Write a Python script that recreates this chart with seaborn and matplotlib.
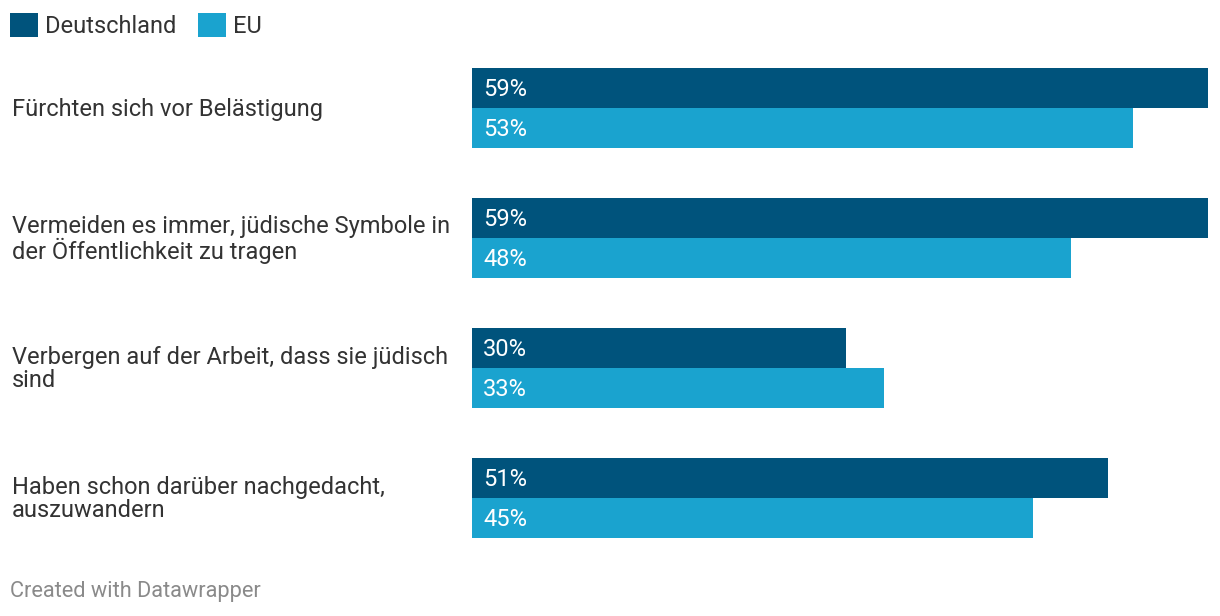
import numpy as np
import pandas as pd
import matplotlib.pyplot as plt
import matplotlib.transforms as mtrans
from matplotlib.patches import Patch
import seaborn as sns

categories = ['Fürchten sich vor Belästigung',
              'Vermeiden es immer, jüdische Symbole in\nder Öffentlichkeit zu tragen',
              'Verbergen auf der Arbeit, dass sie jüdisch\nsind',
              'Haben schon darüber nachgedacht,\nauszuwandern']
deutschland = [59, 59, 30, 51]
eu = [53, 48, 33, 45]
series = ['Deutschland', 'EU']
colors = ['#00537c', '#1aa3cf']

data = pd.DataFrame({
    'Kategorie': categories * 2,
    'Wert': deutschland + eu,
    'Gruppe': ['Deutschland'] * 4 + ['EU'] * 4,
})

sns.set_theme(style='white')
plt.rcParams['font.family'] = ['Roboto', 'DejaVu Sans']

fig = plt.figure(figsize=(12.2, 6.16), dpi=100)
W, H = 1220, 616
# axes from bar start (472px) to 59% end (1208px), top 68px to bottom 538px
ax = fig.add_axes([472 / W, 1 - 538 / H, (1208 - 472) / W, (538 - 68) / H])

bw = 80 / 130
sns.barplot(data=data, x='Wert', y='Kategorie', hue='Gruppe', order=categories,
            hue_order=series, palette=colors, orient='h', width=bw, dodge=True,
            saturation=1, linewidth=0, legend=False, ax=ax)

ax.set_xlim(0, max(deutschland))
ax.set_ylim(len(categories) - 1 + bw / 2, -bw / 2)
ax.set_xticks([])
ax.set_yticks([])
ax.set_xlabel('')
ax.set_ylabel('')
for s in ax.spines.values():
    s.set_visible(False)

# value labels inside bars
for cont in ax.containers:
    for bar in cont:
        v = bar.get_width()
        yc = bar.get_y() + bar.get_height() / 2
        ax.annotate(f'{v:.0f}%', (0, yc), xytext=(8, -1.3), textcoords='offset points',
                    ha='left', va='center', color='white', fontsize=17)

# category labels on the left
tr = mtrans.blended_transform_factory(fig.transFigure, ax.transData)
off = mtrans.ScaledTranslation(0, -1 / 72, fig.dpi_scale_trans)
for i, c in enumerate(categories):
    ax.text(12 / W, i, c, transform=tr + off, ha='left', va='center', fontsize=17,
            color='#333333', linespacing=1.0)

handles = [Patch(facecolor=c, edgecolor='none') for c in colors]
fig.legend(handles, series, loc='upper left', bbox_to_anchor=(10 / W, 1 - 13 / H),
           ncol=2, frameon=False, fontsize=17, handlelength=1.2, handleheight=1.2,
           handletextpad=0.3, columnspacing=0.9, labelcolor='#333333',
           borderpad=0, borderaxespad=0)

fig.text(10 / W, 1 - 592 / H, 'Created with Datawrapper', ha='left', va='center',
         fontsize=15.7, color='#8a8a8a')

fig.savefig('out.png', dpi=100, facecolor='white')
